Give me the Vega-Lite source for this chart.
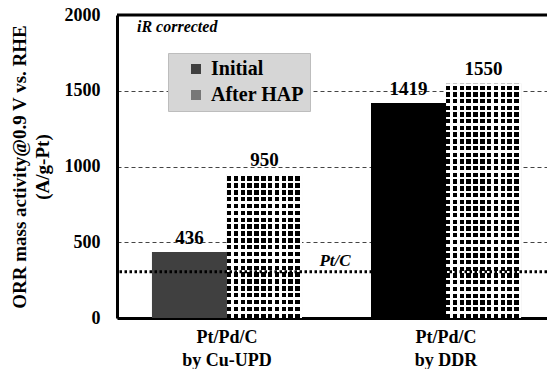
{
  "$schema": "https://vega.github.io/schema/vega-lite/v6.json",
  "width": 430,
  "height": 303,
  "padding": {"left": 10, "top": 6, "right": 0, "bottom": 0},
  "background": "white",
  "config": {
    "font": "Liberation Serif",
    "view": {"stroke": null},
    "text": {"font": "Liberation Serif"},
    "legend": {"labelFont": "Liberation Serif"},
    "axis": {
      "labelFont": "Liberation Serif",
      "labelFontWeight": "bold",
      "labelFontSize": 18,
      "labelColor": "black",
      "titleFont": "Liberation Serif",
      "titleFontWeight": "bold",
      "titleFontSize": 19,
      "titleColor": "black"
    }
  },
  "data": {
    "values": [
      {"cat": "Pt/Pd/C|by Cu-UPD", "series": "Initial", "value": 436},
      {"cat": "Pt/Pd/C|by Cu-UPD", "series": "After HAP", "value": 950},
      {"cat": "Pt/Pd/C|by DDR", "series": "Initial", "value": 1419},
      {"cat": "Pt/Pd/C|by DDR", "series": "After HAP", "value": 1550}
    ]
  },
  "layer": [
    {
      "mark": {"type": "bar"},
      "encoding": {
        "x": {
          "field": "cat",
          "type": "nominal",
          "sort": null,
          "scale": {"domain": ["Pt/Pd/C|by Cu-UPD", "Pt/Pd/C|by DDR"], "paddingInner": 0.315, "paddingOuter": 0.139, "align": 0.574},
          "axis": {"title": null, "labelExpr": "split(datum.label, '|')", "labelAngle": 0, "tickSize": 0, "labelPadding": 10, "labelLineHeight": 23, "domainWidth": 3, "domainColor": "black"}
        },
        "xOffset": {"field": "series", "type": "nominal", "scale": {"domain": ["Initial", "After HAP"], "paddingInner": 0, "paddingOuter": 0}},
        "y": {
          "field": "value",
          "type": "quantitative",
          "scale": {"domain": [0, 2000], "nice": false},
          "axis": {
            "values": [0, 500, 1000, 1500, 2000],
            "format": "d",
            "title": ["ORR mass activity@0.9 V vs. RHE", "(A/g-Pt)"],
            "titleLineHeight": 23,
            "tickSize": 0,
            "labelPadding": 17,
            "titlePadding": 12,
            "grid": true,
            "gridDash": [4, 3],
            "gridColor": "#444",
            "gridOpacity": 1,
            "domainWidth": 3,
            "domainColor": "black"
          }
        },
        "color": {
          "field": "series",
          "type": "nominal",
          "scale": {"domain": ["Initial", "After HAP"], "range": ["#404040", "#777777"]},
          "legend": {
            "title": null,
            "orient": "none",
            "legendX": 51,
            "legendY": 38,
            "padding": 6,
            "symbolOffset": 12,
            "fillColor": "#d6d6d6",
            "strokeColor": "#bdbdbd",
            "symbolType": "square",
            "symbolSize": 100,
            "symbolStrokeWidth": 0,
            "labelFont": "Liberation Serif",
            "labelFontWeight": "bold",
            "labelFontSize": 20,
            "labelColor": "black",
            "labelOffset": 5,
            "rowPadding": 6
          }
        }
      }
    },
    {
      "transform": [{"filter": "datum.series === 'Initial' && datum.cat === 'Pt/Pd/C|by DDR'"}],
      "mark": {"type": "bar", "color": "black"},
      "encoding": {
        "x": {"field": "cat", "type": "nominal", "sort": null},
        "xOffset": {"field": "series", "type": "nominal"},
        "y": {"field": "value", "type": "quantitative"}
      }
    },
    {
      "transform": [{"filter": "datum.series === 'After HAP'"}],
      "mark": {"type": "bar", "color": {"gradient": "linear", "x1": 0, "y1": 0, "x2": 1, "y2": 0, "stops": [
        {"offset": 0, "color": "black"}, {"offset": 0.059, "color": "black"}, {"offset": 0.059, "color": "white"}, {"offset": 0.0909, "color": "white"},
        {"offset": 0.0909, "color": "black"}, {"offset": 0.1499, "color": "black"}, {"offset": 0.1499, "color": "white"}, {"offset": 0.1818, "color": "white"},
        {"offset": 0.1818, "color": "black"}, {"offset": 0.2408, "color": "black"}, {"offset": 0.2408, "color": "white"}, {"offset": 0.2727, "color": "white"},
        {"offset": 0.2727, "color": "black"}, {"offset": 0.3317, "color": "black"}, {"offset": 0.3317, "color": "white"}, {"offset": 0.3636, "color": "white"},
        {"offset": 0.3636, "color": "black"}, {"offset": 0.4226, "color": "black"}, {"offset": 0.4226, "color": "white"}, {"offset": 0.4545, "color": "white"},
        {"offset": 0.4545, "color": "black"}, {"offset": 0.5135, "color": "black"}, {"offset": 0.5135, "color": "white"}, {"offset": 0.5455, "color": "white"},
        {"offset": 0.5455, "color": "black"}, {"offset": 0.6045, "color": "black"}, {"offset": 0.6045, "color": "white"}, {"offset": 0.6364, "color": "white"},
        {"offset": 0.6364, "color": "black"}, {"offset": 0.6954, "color": "black"}, {"offset": 0.6954, "color": "white"}, {"offset": 0.7273, "color": "white"},
        {"offset": 0.7273, "color": "black"}, {"offset": 0.7863, "color": "black"}, {"offset": 0.7863, "color": "white"}, {"offset": 0.8182, "color": "white"},
        {"offset": 0.8182, "color": "black"}, {"offset": 0.8772, "color": "black"}, {"offset": 0.8772, "color": "white"}, {"offset": 0.9091, "color": "white"},
        {"offset": 0.9091, "color": "black"}, {"offset": 0.9681, "color": "black"}, {"offset": 0.9681, "color": "white"}, {"offset": 1, "color": "white"}
      ]}},
      "encoding": {
        "x": {"field": "cat", "type": "nominal", "sort": null},
        "xOffset": {"field": "series", "type": "nominal"},
        "y": {"field": "value", "type": "quantitative"}
      }
    },
    {
      "transform": [{"filter": "datum.series === 'After HAP' && datum.cat === 'Pt/Pd/C|by Cu-UPD'"}],
      "mark": {"type": "bar", "color": {"gradient": "linear", "x1": 0, "y1": 0, "x2": 0, "y2": 1, "stops": [
        {"offset": 0, "color": "white"}, {"offset": 0.0167, "color": "white"}, {"offset": 0.0167, "color": "transparent"}, {"offset": 0.0476, "color": "transparent"},
        {"offset": 0.0476, "color": "white"}, {"offset": 0.0643, "color": "white"}, {"offset": 0.0643, "color": "transparent"}, {"offset": 0.0952, "color": "transparent"},
        {"offset": 0.0952, "color": "white"}, {"offset": 0.1119, "color": "white"}, {"offset": 0.1119, "color": "transparent"}, {"offset": 0.1429, "color": "transparent"},
        {"offset": 0.1429, "color": "white"}, {"offset": 0.1596, "color": "white"}, {"offset": 0.1596, "color": "transparent"}, {"offset": 0.1905, "color": "transparent"},
        {"offset": 0.1905, "color": "white"}, {"offset": 0.2072, "color": "white"}, {"offset": 0.2072, "color": "transparent"}, {"offset": 0.2381, "color": "transparent"},
        {"offset": 0.2381, "color": "white"}, {"offset": 0.2548, "color": "white"}, {"offset": 0.2548, "color": "transparent"}, {"offset": 0.2857, "color": "transparent"},
        {"offset": 0.2857, "color": "white"}, {"offset": 0.3024, "color": "white"}, {"offset": 0.3024, "color": "transparent"}, {"offset": 0.3333, "color": "transparent"},
        {"offset": 0.3333, "color": "white"}, {"offset": 0.35, "color": "white"}, {"offset": 0.35, "color": "transparent"}, {"offset": 0.381, "color": "transparent"},
        {"offset": 0.381, "color": "white"}, {"offset": 0.3977, "color": "white"}, {"offset": 0.3977, "color": "transparent"}, {"offset": 0.4286, "color": "transparent"},
        {"offset": 0.4286, "color": "white"}, {"offset": 0.4453, "color": "white"}, {"offset": 0.4453, "color": "transparent"}, {"offset": 0.4762, "color": "transparent"},
        {"offset": 0.4762, "color": "white"}, {"offset": 0.4929, "color": "white"}, {"offset": 0.4929, "color": "transparent"}, {"offset": 0.5238, "color": "transparent"},
        {"offset": 0.5238, "color": "white"}, {"offset": 0.5405, "color": "white"}, {"offset": 0.5405, "color": "transparent"}, {"offset": 0.5714, "color": "transparent"},
        {"offset": 0.5714, "color": "white"}, {"offset": 0.5881, "color": "white"}, {"offset": 0.5881, "color": "transparent"}, {"offset": 0.619, "color": "transparent"},
        {"offset": 0.619, "color": "white"}, {"offset": 0.6357, "color": "white"}, {"offset": 0.6357, "color": "transparent"}, {"offset": 0.6667, "color": "transparent"},
        {"offset": 0.6667, "color": "white"}, {"offset": 0.6834, "color": "white"}, {"offset": 0.6834, "color": "transparent"}, {"offset": 0.7143, "color": "transparent"},
        {"offset": 0.7143, "color": "white"}, {"offset": 0.731, "color": "white"}, {"offset": 0.731, "color": "transparent"}, {"offset": 0.7619, "color": "transparent"},
        {"offset": 0.7619, "color": "white"}, {"offset": 0.7786, "color": "white"}, {"offset": 0.7786, "color": "transparent"}, {"offset": 0.8095, "color": "transparent"},
        {"offset": 0.8095, "color": "white"}, {"offset": 0.8262, "color": "white"}, {"offset": 0.8262, "color": "transparent"}, {"offset": 0.8571, "color": "transparent"},
        {"offset": 0.8571, "color": "white"}, {"offset": 0.8738, "color": "white"}, {"offset": 0.8738, "color": "transparent"}, {"offset": 0.9048, "color": "transparent"},
        {"offset": 0.9048, "color": "white"}, {"offset": 0.9215, "color": "white"}, {"offset": 0.9215, "color": "transparent"}, {"offset": 0.9524, "color": "transparent"},
        {"offset": 0.9524, "color": "white"}, {"offset": 0.9691, "color": "white"}, {"offset": 0.9691, "color": "transparent"}, {"offset": 1, "color": "transparent"}
      ]}},
      "encoding": {
        "x": {"field": "cat", "type": "nominal", "sort": null},
        "xOffset": {"field": "series", "type": "nominal"},
        "y": {"field": "value", "type": "quantitative"}
      }
    },
    {
      "transform": [{"filter": "datum.series === 'After HAP' && datum.cat === 'Pt/Pd/C|by DDR'"}],
      "mark": {"type": "bar", "color": {"gradient": "linear", "x1": 0, "y1": 0, "x2": 0, "y2": 1, "stops": [
        {"offset": 0, "color": "white"}, {"offset": 0.01, "color": "white"}, {"offset": 0.01, "color": "transparent"}, {"offset": 0.0286, "color": "transparent"},
        {"offset": 0.0286, "color": "white"}, {"offset": 0.0386, "color": "white"}, {"offset": 0.0386, "color": "transparent"}, {"offset": 0.0571, "color": "transparent"},
        {"offset": 0.0571, "color": "white"}, {"offset": 0.0671, "color": "white"}, {"offset": 0.0671, "color": "transparent"}, {"offset": 0.0857, "color": "transparent"},
        {"offset": 0.0857, "color": "white"}, {"offset": 0.0957, "color": "white"}, {"offset": 0.0957, "color": "transparent"}, {"offset": 0.1143, "color": "transparent"},
        {"offset": 0.1143, "color": "white"}, {"offset": 0.1243, "color": "white"}, {"offset": 0.1243, "color": "transparent"}, {"offset": 0.1429, "color": "transparent"},
        {"offset": 0.1429, "color": "white"}, {"offset": 0.1529, "color": "white"}, {"offset": 0.1529, "color": "transparent"}, {"offset": 0.1714, "color": "transparent"},
        {"offset": 0.1714, "color": "white"}, {"offset": 0.1814, "color": "white"}, {"offset": 0.1814, "color": "transparent"}, {"offset": 0.2, "color": "transparent"},
        {"offset": 0.2, "color": "white"}, {"offset": 0.21, "color": "white"}, {"offset": 0.21, "color": "transparent"}, {"offset": 0.2286, "color": "transparent"},
        {"offset": 0.2286, "color": "white"}, {"offset": 0.2386, "color": "white"}, {"offset": 0.2386, "color": "transparent"}, {"offset": 0.2571, "color": "transparent"},
        {"offset": 0.2571, "color": "white"}, {"offset": 0.2671, "color": "white"}, {"offset": 0.2671, "color": "transparent"}, {"offset": 0.2857, "color": "transparent"},
        {"offset": 0.2857, "color": "white"}, {"offset": 0.2957, "color": "white"}, {"offset": 0.2957, "color": "transparent"}, {"offset": 0.3143, "color": "transparent"},
        {"offset": 0.3143, "color": "white"}, {"offset": 0.3243, "color": "white"}, {"offset": 0.3243, "color": "transparent"}, {"offset": 0.3429, "color": "transparent"},
        {"offset": 0.3429, "color": "white"}, {"offset": 0.3529, "color": "white"}, {"offset": 0.3529, "color": "transparent"}, {"offset": 0.3714, "color": "transparent"},
        {"offset": 0.3714, "color": "white"}, {"offset": 0.3814, "color": "white"}, {"offset": 0.3814, "color": "transparent"}, {"offset": 0.4, "color": "transparent"},
        {"offset": 0.4, "color": "white"}, {"offset": 0.41, "color": "white"}, {"offset": 0.41, "color": "transparent"}, {"offset": 0.4286, "color": "transparent"},
        {"offset": 0.4286, "color": "white"}, {"offset": 0.4386, "color": "white"}, {"offset": 0.4386, "color": "transparent"}, {"offset": 0.4571, "color": "transparent"},
        {"offset": 0.4571, "color": "white"}, {"offset": 0.4671, "color": "white"}, {"offset": 0.4671, "color": "transparent"}, {"offset": 0.4857, "color": "transparent"},
        {"offset": 0.4857, "color": "white"}, {"offset": 0.4957, "color": "white"}, {"offset": 0.4957, "color": "transparent"}, {"offset": 0.5143, "color": "transparent"},
        {"offset": 0.5143, "color": "white"}, {"offset": 0.5243, "color": "white"}, {"offset": 0.5243, "color": "transparent"}, {"offset": 0.5429, "color": "transparent"},
        {"offset": 0.5429, "color": "white"}, {"offset": 0.5529, "color": "white"}, {"offset": 0.5529, "color": "transparent"}, {"offset": 0.5714, "color": "transparent"},
        {"offset": 0.5714, "color": "white"}, {"offset": 0.5814, "color": "white"}, {"offset": 0.5814, "color": "transparent"}, {"offset": 0.6, "color": "transparent"},
        {"offset": 0.6, "color": "white"}, {"offset": 0.61, "color": "white"}, {"offset": 0.61, "color": "transparent"}, {"offset": 0.6286, "color": "transparent"},
        {"offset": 0.6286, "color": "white"}, {"offset": 0.6386, "color": "white"}, {"offset": 0.6386, "color": "transparent"}, {"offset": 0.6571, "color": "transparent"},
        {"offset": 0.6571, "color": "white"}, {"offset": 0.6671, "color": "white"}, {"offset": 0.6671, "color": "transparent"}, {"offset": 0.6857, "color": "transparent"},
        {"offset": 0.6857, "color": "white"}, {"offset": 0.6957, "color": "white"}, {"offset": 0.6957, "color": "transparent"}, {"offset": 0.7143, "color": "transparent"},
        {"offset": 0.7143, "color": "white"}, {"offset": 0.7243, "color": "white"}, {"offset": 0.7243, "color": "transparent"}, {"offset": 0.7429, "color": "transparent"},
        {"offset": 0.7429, "color": "white"}, {"offset": 0.7529, "color": "white"}, {"offset": 0.7529, "color": "transparent"}, {"offset": 0.7714, "color": "transparent"},
        {"offset": 0.7714, "color": "white"}, {"offset": 0.7814, "color": "white"}, {"offset": 0.7814, "color": "transparent"}, {"offset": 0.8, "color": "transparent"},
        {"offset": 0.8, "color": "white"}, {"offset": 0.81, "color": "white"}, {"offset": 0.81, "color": "transparent"}, {"offset": 0.8286, "color": "transparent"},
        {"offset": 0.8286, "color": "white"}, {"offset": 0.8386, "color": "white"}, {"offset": 0.8386, "color": "transparent"}, {"offset": 0.8571, "color": "transparent"},
        {"offset": 0.8571, "color": "white"}, {"offset": 0.8671, "color": "white"}, {"offset": 0.8671, "color": "transparent"}, {"offset": 0.8857, "color": "transparent"},
        {"offset": 0.8857, "color": "white"}, {"offset": 0.8957, "color": "white"}, {"offset": 0.8957, "color": "transparent"}, {"offset": 0.9143, "color": "transparent"},
        {"offset": 0.9143, "color": "white"}, {"offset": 0.9243, "color": "white"}, {"offset": 0.9243, "color": "transparent"}, {"offset": 0.9429, "color": "transparent"},
        {"offset": 0.9429, "color": "white"}, {"offset": 0.9529, "color": "white"}, {"offset": 0.9529, "color": "transparent"}, {"offset": 0.9714, "color": "transparent"},
        {"offset": 0.9714, "color": "white"}, {"offset": 0.9814, "color": "white"}, {"offset": 0.9814, "color": "transparent"}, {"offset": 1, "color": "transparent"}
      ]}},
      "encoding": {
        "x": {"field": "cat", "type": "nominal", "sort": null},
        "xOffset": {"field": "series", "type": "nominal"},
        "y": {"field": "value", "type": "quantitative"}
      }
    },
    {
      "mark": {"type": "text", "baseline": "alphabetic", "dy": -8, "fontSize": 19, "fontWeight": "bold", "font": "Liberation Serif", "color": "black"},
      "encoding": {
        "x": {"field": "cat", "type": "nominal", "sort": null},
        "xOffset": {"field": "series", "type": "nominal"},
        "y": {"field": "value", "type": "quantitative"},
        "text": {"field": "value", "type": "quantitative"}
      }
    },
    {
      "data": {"values": [{"v": 305}]},
      "mark": {"type": "rule", "strokeDash": [2.5, 2.5], "strokeWidth": 3, "color": "black"},
      "encoding": {"y": {"field": "v", "type": "quantitative"}}
    },
    {
      "data": {"values": [{"v": 2000}]},
      "mark": {"type": "rule", "strokeWidth": 3, "color": "black"},
      "encoding": {"y": {"field": "v", "type": "quantitative"}}
    },
    {
      "data": {"values": [{"cat": "Pt/Pd/C|by DDR", "v": 305, "t": "Pt/C"}]},
      "mark": {"type": "text", "baseline": "alphabetic", "align": "center", "dx": -36, "dy": -6, "fontSize": 17, "fontWeight": "bold", "fontStyle": "italic", "font": "Liberation Serif", "color": "black"},
      "encoding": {
        "x": {"field": "cat", "type": "nominal", "bandPosition": 0},
        "y": {"field": "v", "type": "quantitative"},
        "text": {"field": "t"}
      }
    },
    {
      "data": {"values": [{"cat": "Pt/Pd/C|by Cu-UPD", "v": 1920, "t": "iR corrected"}]},
      "mark": {"type": "text", "baseline": "middle", "align": "left", "dx": -15, "fontSize": 16, "fontWeight": "bold", "fontStyle": "italic", "font": "Liberation Serif", "color": "black"},
      "encoding": {
        "x": {"field": "cat", "type": "nominal", "bandPosition": 0},
        "y": {"field": "v", "type": "quantitative"},
        "text": {"field": "t"}
      }
    }
  ]
}
